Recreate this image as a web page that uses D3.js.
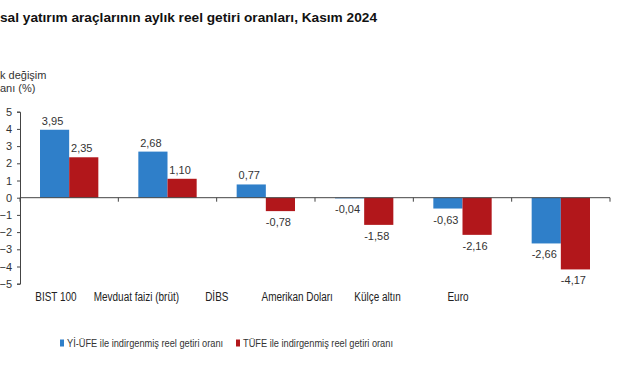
<!DOCTYPE html>
<html>
<head>
<meta charset="utf-8">
<script src="https://cdn.jsdelivr.net/npm/d3@7"></script>
<style>
  body { margin: 0; background: #fff; }
  text { font-family: "Liberation Sans", Arial, sans-serif; }
</style>
</head>
<body>
<script>
var w = 641;
var h = 380;

var categories = ["BIST 100", "Mevduat faizi (brüt)", "DİBS", "Amerikan Doları", "Külçe altın", "Euro"];
var seriesNames = ["Yİ-ÜFE ile indirgenmiş reel getiri oranı", "TÜFE ile indirgenmiş reel getiri oranı"];
var ufeValues = [3.95, 2.68, 0.77, -0.04, -0.63, -2.66];
var tufeValues = [2.35, 1.10, -0.78, -1.58, -2.16, -4.17];
var yTicks = [5, 4, 3, 2, 1, 0, -1, -2, -3, -4, -5];
var colors = ["#2f7fc9", "#b2171b"];

var svg = d3.select("body")
    .append("svg")
    .attr("width", w)
    .attr("height", h);

// narrow look of the original labels
function squeeze(sel, k){
    sel.each(function(){
        var len = this.getComputedTextLength();
        d3.select(this)
            .attr("textLength", len * k)
            .attr("lengthAdjust", "spacingAndGlyphs");
    });
}

// title (cropped on the left in the original)
svg.append("text")
    .attr("x", 0)
    .attr("y", 22)
    .attr("textLength", 377)
    .attr("lengthAdjust", "spacingAndGlyphs")
    .style("font-size", "13px")
    .style("font-weight", "bold")
    .style("fill", "#111")
    .text("sal yatırım araçlarının aylık reel getiri oranları, Kasım 2024");

var ylab = svg.append("text")
    .style("font-size", "11px")
    .style("fill", "#333");
ylab.append("tspan").attr("x", 0).attr("y", 79).text("k değişim");
ylab.append("tspan").attr("x", 0).attr("y", 92).text("anı (%)");

var y = d3.scaleLinear()
    .domain([-5, 5])
    .range([283.7, 111.7]);

var x0 = d3.scaleBand()
    .domain(categories)
    .range([20, 610]);

var x1 = d3.scaleBand()
    .domain([0, 1])
    .range([20, x0.bandwidth() - 20]);

// category labels sit on their own spacing in the original
var xl = d3.scalePoint()
    .domain(categories)
    .range([56, 458]);

// y axis
var yAxis = svg.append("g")
    .attr("transform", "translate(20,0)")
    .call(d3.axisLeft(y).tickValues(yTicks).tickSize(3).tickFormat(d3.format("d")));
yAxis.select(".domain").attr("stroke", "#444");
yAxis.selectAll(".tick line").attr("stroke", "#444");
yAxis.selectAll(".tick text")
    .attr("x", -8)
    .style("font-family", "'Liberation Sans', Arial, sans-serif")
    .style("font-size", "11px")
    .style("fill", "#333");

// bars
var data = categories.map(function(c, i){
    return { cat: c, vals: [ufeValues[i], tufeValues[i]] };
});

var groups = svg.selectAll("g.cat")
    .data(data)
    .enter()
    .append("g")
    .attr("class", "cat")
    .attr("transform", function(d){ return "translate(" + x0(d.cat) + ",0)"; });

groups.selectAll("rect")
    .data(function(d){ return d.vals.map(function(v, j){ return { v: v, s: j }; }); })
    .enter()
    .append("rect")
    .attr("x", function(d){ return x1(d.s); })
    .attr("width", x1.bandwidth())
    .attr("y", function(d){ return y(Math.max(0, d.v)); })
    .attr("height", function(d){ return Math.abs(y(d.v) - y(0)); })
    .attr("fill", function(d){ return colors[d.s]; });

var fmt = function(v){ return d3.format(".2f")(v).replace(".", ",").replace("−", "-"); };

groups.selectAll("text.val")
    .data(function(d){ return d.vals.map(function(v, j){ return { v: v, s: j }; }); })
    .enter()
    .append("text")
    .attr("class", "val")
    .attr("x", function(d){ return x1(d.s) + x1.bandwidth() / 2 - 2; })
    .attr("y", function(d){ return d.v >= 0 ? y(d.v) - 5 : y(d.v) + 15; })
    .attr("text-anchor", "middle")
    .style("font-size", "11px")
    .style("fill", "#333")
    .text(function(d){ return fmt(d.v); });

// x axis at zero with boundary ticks
var xAxis = svg.append("g")
    .attr("transform", "translate(0," + y(0) + ")");
xAxis.append("line")
    .attr("x1", 20).attr("x2", 610)
    .attr("stroke", "#444");
xAxis.selectAll("line.tk")
    .data(categories.concat(["end"]))
    .enter()
    .append("line")
    .attr("class", "tk")
    .attr("x1", function(d, i){ return i < categories.length ? x0(d) : x0.range()[1]; })
    .attr("x2", function(d, i){ return i < categories.length ? x0(d) : x0.range()[1]; })
    .attr("y1", 0).attr("y2", 4)
    .attr("stroke", "#444");

svg.selectAll("text.catlab")
    .data(categories)
    .enter()
    .append("text")
    .attr("class", "catlab")
    .attr("x", function(d){ return xl(d); })
    .attr("y", 301)
    .attr("text-anchor", "middle")
    .style("font-size", "12px")
    .style("fill", "#222")
    .text(function(d){ return d; })
    .call(squeeze, 0.83);

// legend
var legX = [62, 238];
var leg = svg.selectAll("g.leg")
    .data(seriesNames)
    .enter()
    .append("g")
    .attr("class", "leg")
    .attr("transform", function(d, i){ return "translate(" + legX[i] + ",343)"; });
leg.append("rect")
    .attr("x", -2).attr("y", -3.5)
    .attr("width", 4).attr("height", 7)
    .attr("fill", function(d, i){ return colors[i]; });
leg.append("text")
    .attr("x", 5)
    .attr("y", 4)
    .style("font-size", "11px")
    .style("fill", "#333")
    .text(function(d){ return d; })
    .call(squeeze, 0.84);
</script>
</body>
</html>
